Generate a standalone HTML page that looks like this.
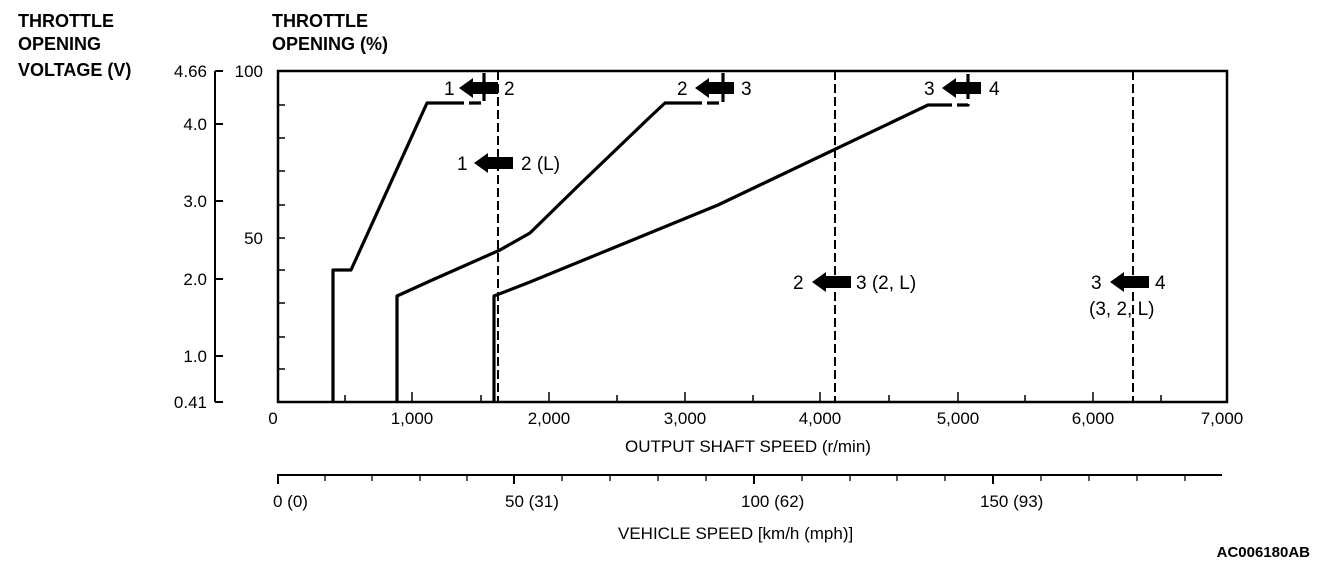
<!DOCTYPE html>
<html><head><meta charset="utf-8"><style>
body{margin:0;background:#fff}
svg{display:block}
text{font-family:"Liberation Sans",Arial,sans-serif;fill:#000}
</style></head><body>
<svg width="1328" height="574" viewBox="0 0 1328 574" xmlns="http://www.w3.org/2000/svg">
<defs>
<g id="arr"><polygon points="0,0 14,-10 14,-6 39,-6 39,6 14,6 14,10" fill="#000"/></g>
</defs>
<g font-size="18" font-weight="bold">
<text x="18" y="27">THROTTLE</text>
<text x="18" y="50">OPENING</text>
<text x="18" y="76">VOLTAGE (V)</text>
<text x="272" y="27">THROTTLE</text>
<text x="272" y="50">OPENING (%)</text>
</g>
<g stroke="#000" stroke-width="2" fill="none">
<line x1="215" y1="71" x2="215" y2="402"/>
<line x1="215" y1="71" x2="223" y2="71"/>
<line x1="215" y1="124" x2="223" y2="124"/>
<line x1="215" y1="201" x2="223" y2="201"/>
<line x1="215" y1="279" x2="223" y2="279"/>
<line x1="215" y1="356" x2="223" y2="356"/>
<line x1="215" y1="402" x2="223" y2="402"/>
</g>
<g font-size="17" text-anchor="end">
<text x="207" y="77">4.66</text>
<text x="207" y="130">4.0</text>
<text x="207" y="207">3.0</text>
<text x="207" y="285">2.0</text>
<text x="207" y="362">1.0</text>
<text x="207" y="408">0.41</text>
<text x="263" y="77">100</text>
<text x="263" y="244">50</text>
</g>
<rect x="278" y="71" width="949" height="331" fill="none" stroke="#000" stroke-width="2.5"/>
<g stroke="#000" stroke-width="1.5">
<line x1="278" y1="105" x2="285" y2="105"/><line x1="278" y1="138" x2="285" y2="138"/>
<line x1="278" y1="171" x2="285" y2="171"/><line x1="278" y1="205" x2="285" y2="205"/>
<line x1="278" y1="238" x2="285" y2="238"/><line x1="278" y1="270" x2="285" y2="270"/>
<line x1="278" y1="303" x2="285" y2="303"/><line x1="278" y1="337" x2="285" y2="337"/>
<line x1="278" y1="369" x2="285" y2="369"/>
<line x1="345" y1="402" x2="345" y2="395"/><line x1="412" y1="402" x2="412" y2="392"/>
<line x1="481" y1="402" x2="481" y2="395"/><line x1="549" y1="402" x2="549" y2="392"/>
<line x1="617" y1="402" x2="617" y2="395"/><line x1="685" y1="402" x2="685" y2="392"/>
<line x1="753" y1="402" x2="753" y2="395"/><line x1="820" y1="402" x2="820" y2="392"/>
<line x1="889" y1="402" x2="889" y2="395"/><line x1="958" y1="402" x2="958" y2="392"/>
<line x1="1025" y1="402" x2="1025" y2="395"/><line x1="1093" y1="402" x2="1093" y2="392"/>
<line x1="1161" y1="402" x2="1161" y2="395"/>
</g>
<g font-size="17" text-anchor="middle">
<text x="273" y="424">0</text><text x="412" y="424">1,000</text><text x="549" y="424">2,000</text>
<text x="685" y="424">3,000</text><text x="820" y="424">4,000</text><text x="958" y="424">5,000</text>
<text x="1093" y="424">6,000</text><text x="1222" y="424">7,000</text>
<text x="748" y="452">OUTPUT SHAFT SPEED (r/min)</text>
</g>
<g stroke="#000" stroke-width="2" stroke-dasharray="9,4">
<line x1="498" y1="71" x2="498" y2="402"/>
<line x1="835" y1="71" x2="835" y2="402"/>
<line x1="1133" y1="71" x2="1133" y2="402"/>
</g>
<g stroke="#000" stroke-width="3.2" fill="none" stroke-linejoin="round">
<polyline points="333,402 333,270 351,270 427,103 452,103"/>
<polyline points="452,103 484,103 484,73" stroke-dasharray="12,5"/>
<polyline points="397,402 397,296 430,281 500,250 530,233 577,187 650,117 665,103 690,103"/>
<polyline points="690,103 723,103 723,73" stroke-dasharray="12,5"/>
<polyline points="494,402 494,296 530,282 718,205 928,105 940,105"/>
<polyline points="940,105 968,105 968,74" stroke-dasharray="12,5"/>
</g>
<g font-size="19">
<text x="444" y="95">1</text><use href="#arr" x="459" y="88"/><text x="504" y="95">2</text>
<text x="457" y="170">1</text><use href="#arr" x="474" y="163"/><text x="521" y="170">2 (L)</text>
<text x="677" y="95">2</text><use href="#arr" x="695" y="88"/><text x="741" y="95">3</text>
<text x="924" y="95">3</text><use href="#arr" x="942" y="88"/><text x="989" y="95">4</text>
<text x="793" y="289">2</text><use href="#arr" x="812" y="282"/><text x="856" y="289">3 (2, L)</text>
<text x="1091" y="289">3</text><use href="#arr" x="1110" y="282"/><text x="1155" y="289">4</text>
<text x="1089" y="315">(3, 2, L)</text>
</g>
<g stroke="#000" stroke-width="2">
<line x1="277" y1="475" x2="1222" y2="475"/>
<line x1="278" y1="475" x2="278" y2="484"/>
<line x1="514" y1="475" x2="514" y2="484"/>
<line x1="754" y1="475" x2="754" y2="484"/>
<line x1="993" y1="475" x2="993" y2="484"/>
</g>
<g stroke="#000" stroke-width="1.3">
<line x1="325" y1="475" x2="325" y2="481"/><line x1="372" y1="475" x2="372" y2="481"/>
<line x1="420" y1="475" x2="420" y2="481"/><line x1="467" y1="475" x2="467" y2="481"/>
<line x1="562" y1="475" x2="562" y2="481"/><line x1="610" y1="475" x2="610" y2="481"/>
<line x1="658" y1="475" x2="658" y2="481"/><line x1="706" y1="475" x2="706" y2="481"/>
<line x1="802" y1="475" x2="802" y2="481"/><line x1="850" y1="475" x2="850" y2="481"/>
<line x1="897" y1="475" x2="897" y2="481"/><line x1="945" y1="475" x2="945" y2="481"/>
<line x1="1041" y1="475" x2="1041" y2="481"/><line x1="1089" y1="475" x2="1089" y2="481"/>
<line x1="1137" y1="475" x2="1137" y2="481"/><line x1="1185" y1="475" x2="1185" y2="481"/>
</g>
<g font-size="17">
<text x="273" y="507">0 (0)</text>
<text x="505" y="507">50 (31)</text>
<text x="741" y="507">100 (62)</text>
<text x="980" y="507">150 (93)</text>
<text x="618" y="539">VEHICLE SPEED [km/h (mph)]</text>
</g>
<text x="1310" y="557" font-size="15" font-weight="bold" text-anchor="end">AC006180AB</text>
</svg>
</body></html>
